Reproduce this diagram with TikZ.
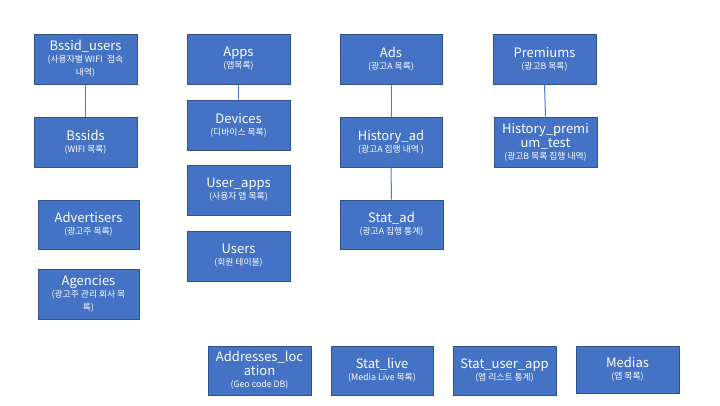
\documentclass[tikz,border=0pt]{standalone}
\usepackage{fontspec}
\setmainfont{Noto Sans CJK KR}
\definecolor{boxfill}{HTML}{4472C4}
\definecolor{boxedge}{HTML}{2F528F}
\definecolor{linkblue}{HTML}{4A7BCF}
\newcommand\subt[1]{{\fontsize{8.8}{10.5}\selectfont #1}}
\begin{document}
\begin{tikzpicture}[x=1pt,y=-1pt,
  tbl/.style={draw=boxedge, fill=boxfill, line width=1pt, text=white, align=center,
    minimum width=103pt, minimum height=50pt, inner sep=1pt,
    font=\fontsize{13}{14}\selectfont},
  link/.style={draw=linkblue, line width=1pt}]
\useasboundingbox[fill=white] (0,0) rectangle (720,405);
% column 1
\node[tbl] (bu) at (85.5,59) {Bssid\_users\\[-2pt]\subt{(사용자별 WIFI\enspace 접속}\\[-1pt]\subt{내역)}};
\node[tbl] (bs) at (85.5,142) {Bssids\\[-2pt]\subt{(WIFI 목록)}};
\node[tbl, minimum width=101pt, minimum height=49pt] (adv) at (88.5,224.5) {Advertisers\\[-2pt]\subt{(광고주 목록)}};
\node[tbl, minimum width=101pt, minimum height=50pt] (agc) at (88.5,294) {Agencies\\[-2pt]\subt{(광고주 관리 회사 목}\\[-1pt]\subt{록)}};
% column 2
\node[tbl] (apps) at (238.5,59) {Apps\\[-2pt]\subt{(앱목록)}};
\node[tbl] (dev) at (238.5,125) {Devices\\[-2pt]\subt{(디바이스 목록)}};
\node[tbl] (uapp) at (238.5,190) {User\_apps\\[-2pt]\subt{(사용자 앱 목록)}};
\node[tbl] (usr) at (238.5,256) {Users\\[-2pt]\subt{(회원 테이블)}};
% column 3
\node[tbl, minimum width=102pt] (ads) at (391,59) {Ads\\[-2pt]\subt{(광고A 목록)}};
\node[tbl, minimum width=102pt] (had) at (391,142) {History\_ad\\[-2pt]\subt{(광고A 집행 내역 )}};
\node[tbl, minimum width=103pt, minimum height=49pt] (sad) at (391.5,224.5) {Stat\_ad\\[-2pt]\subt{(광고A 집행 통계)}};
% column 4
\node[tbl] (prm) at (544.5,59) {Premiums\\[-2pt]\subt{(광고B 목록)}};
\node[tbl] (hpr) at (545.5,142) {History\_premi\\um\_test\\[-2pt]\subt{(광고B 목록 집행 내역)}};
% bottom row
\node[tbl, minimum height=49pt] (addr) at (259.5,370.5) {Addresses\_loc\\ation\\[-2pt]\subt{(Geo code DB)}};
\node[tbl, minimum width=102pt, minimum height=49pt] (slv) at (382,370.5) {Stat\_live\\[-2pt]\subt{(Media Live 목록)}};
\node[tbl, minimum height=49pt] (sua) at (504.5,370.5) {Stat\_user\_app\\[-2pt]\subt{(앱 리스트 통계)}};
\node[tbl, minimum width=103pt, minimum height=47pt] (med) at (627.5,369.5) {Medias\\[-2pt]\subt{(앱 목록)}};
% connectors
\draw[link] (bu.south) -- (bs.north);
\draw[link] (apps.south) -- (dev.north);
\draw[link] (ads.south) -- (had.north);
\draw[link] (had.south) -- (sad.north);
\draw[link] (prm.south) -- (hpr.north);
\end{tikzpicture}
\end{document}
